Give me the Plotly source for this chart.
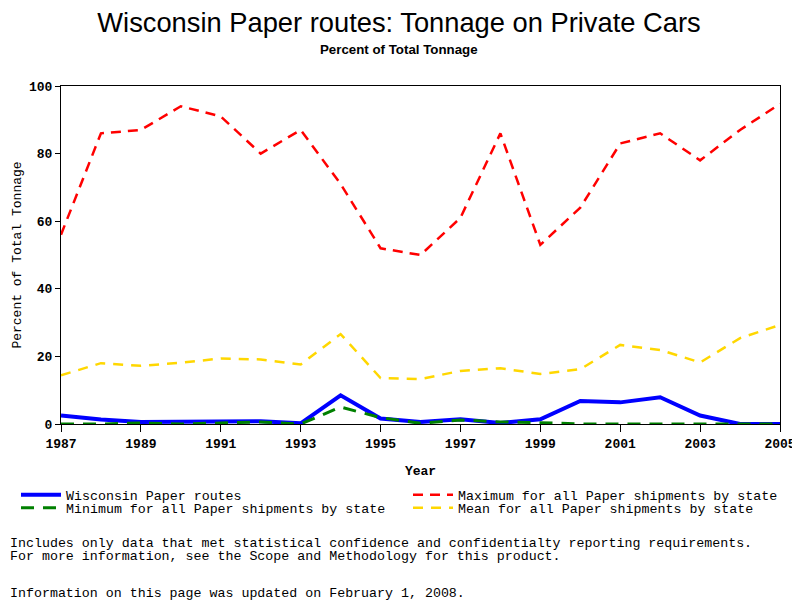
import plotly.graph_objects as go

years = list(range(1987, 2006))
wisconsin = [2.5, 1.3, 0.6, 0.6, 0.6, 0.8, 0.2, 8.5, 1.6, 0.6, 1.4, 0.3, 1.4, 6.8, 6.4, 7.9, 2.5, 0.0, 0.0]
maximum = [56, 86, 87, 94, 91, 80, 87, 71, 52, 50, 61, 86, 53, 64, 83, 86, 78, 87, 94.7]
minimum = [0.0, 0.0, 0.3, 0.0, 0.3, 0.6, 0.0, 5.0, 1.9, 0.2, 1.2, 0.6, 0.4, 0.0, 0.0, 0.0, 0.0, 0.0, 0.0]
mean = [14.4, 18.0, 17.2, 18.1, 19.4, 19.1, 17.6, 26.6, 13.6, 13.3, 15.7, 16.5, 14.8, 16.2, 23.4, 21.9, 18.2, 25.4, 29.3]

names = ["Wisconsin Paper routes", "Maximum for all Paper shipments by state",
         "Minimum for all Paper shipments by state", "Mean for all Paper shipments by state"]

mono = "Liberation Mono"

# the page places the figure 8px from the window's top-left corner
OX, OY = 8, 8
W, H = 800, 600
PL, PR, PT, PB = 61 - OX, 780 - OX, 86 - OY, 424 - OY  # plot area in figure px
PW, PH = PR - PL, PB - PT


def px_x(x):
    return (x - OX - PL) / PW


def px_y(y):
    return (PB - (y - OY)) / PH


fig = go.Figure()
fig.add_trace(go.Scatter(x=years, y=wisconsin, name=names[0], mode="lines", legend="legend",
                         line=dict(color="#0000FF", width=4, dash="solid")))
fig.add_trace(go.Scatter(x=years, y=maximum, name=names[1], mode="lines", legend="legend2",
                         line=dict(color="#FF0000", width=2.5, dash="10px,7px")))
fig.add_trace(go.Scatter(x=years, y=minimum, name=names[2], mode="lines", legend="legend3",
                         line=dict(color="#008000", width=3, dash="13px,9px")))
fig.add_trace(go.Scatter(x=years, y=mean, name=names[3], mode="lines", legend="legend4",
                         line=dict(color="#FFD700", width=2.5, dash="10px,8px")))


def leg(xpx, ypx):
    return dict(orientation="h", xref="container", yref="container",
                x=(xpx - OX) / W, xanchor="left", y=1 - (ypx - OY) / H, yanchor="middle",
                font=dict(family=mono, size=13.3, color="black"),
                itemwidth=40, bgcolor="rgba(0,0,0,0)", borderwidth=0)


fig.update_layout(
    width=W, height=H,
    paper_bgcolor="white", plot_bgcolor="white",
    margin=dict(l=PL, r=W - PR, t=PT, b=H - PB, autoexpand=False),
    title=dict(text="Wisconsin Paper routes: Tonnage on Private Cars",
               x=(399 - OX) / W, xanchor="center", y=1 - (22 - OY) / H, yanchor="middle",
               font=dict(family="Liberation Sans", size=27.3, color="black")),
    showlegend=True,
    legend=leg(16, 495),
    legend2=leg(408, 495),
    legend3=leg(16, 508),
    legend4=leg(408, 508),
    xaxis=dict(range=[1987, 2005], tickmode="array", tickvals=list(range(1987, 2006, 2)),
               ticktext=[str(y) for y in range(1987, 2006, 2)],
               ticks="outside", ticklen=7, tickwidth=1, tickcolor="black",
               showline=True, linecolor="black", linewidth=1, mirror=True,
               showgrid=False, zeroline=False, automargin=False,
               tickfont=dict(family=mono, size=13, color="black", weight="bold"),
               title=dict(text="Year", standoff=17,
                          font=dict(family=mono, size=13, color="black", weight="bold"))),
    yaxis=dict(range=[0, 100], tickvals=[0, 20, 40, 60, 80, 100],
               ticks="outside", ticklen=5, tickwidth=1, tickcolor="black",
               showline=True, linecolor="black", linewidth=1, mirror=True,
               showgrid=False, zeroline=False, automargin=False,
               tickfont=dict(family=mono, size=13, color="black", weight="bold"),
               title=dict(text="Percent of Total Tonnage", standoff=4,
                          font=dict(family=mono, size=13, color="black"))),
)

fig.add_annotation(text="<b>Percent of Total Tonnage</b>", xref="paper", yref="paper",
                   x=px_x(399), y=px_y(49), xanchor="center", yanchor="middle",
                   showarrow=False, font=dict(family="Liberation Sans", size=13.3, color="black"))

notes = [
    ("Includes only data that met statistical confidence and confidentialty reporting requirements.", 543),
    ("For more information, see the Scope and Methodology for this product.", 556),
    ("Information on this page was updated on February 1, 2008.", 593),
]
for txt, ypx in notes:
    fig.add_annotation(text=txt, xref="paper", yref="paper",
                       x=px_x(OX), y=px_y(ypx), xanchor="left", yanchor="middle",
                       showarrow=False, align="left",
                       font=dict(family=mono, size=13.3, color="black"))

fig.write_html("out.html")
